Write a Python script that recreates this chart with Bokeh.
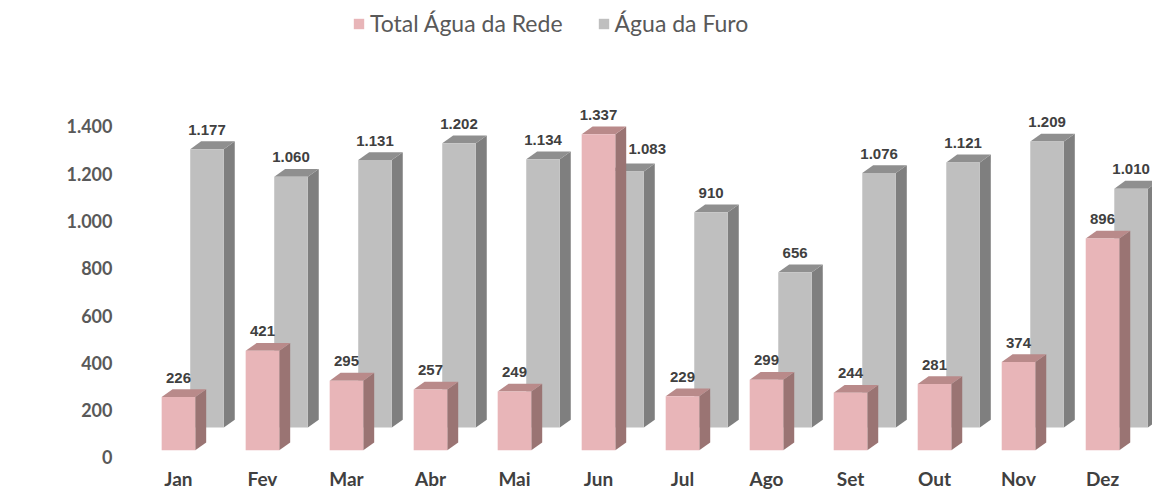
from bokeh.plotting import figure
from bokeh.models import FixedTicker, Legend, LegendItem, ColumnDataSource, Range1d
from bokeh.core.properties import value
from bokeh.embed import file_html
from bokeh.resources import INLINE

# ---- data ----
months = ["Jan", "Fev", "Mar", "Abr", "Mai", "Jun", "Jul", "Ago", "Set", "Out", "Nov", "Dez"]
rede = [226, 421, 295, 257, 249, 1337, 229, 299, 244, 281, 374, 896]
furo = [1177, 1060, 1131, 1202, 1134, 1083, 910, 656, 1076, 1121, 1209, 1010]
series_names = ["Total Água da Rede", "Água da Furo"]
y_ticks = [0, 200, 400, 600, 800, 1000, 1200, 1400]

# ---- pseudo-3D projection parameters (data units) ----
BAR_W = 0.40      # front face width
DEPTH_X = 0.13    # side face horizontal depth
DEPTH_Y = 33      # top face vertical depth
ROW_PINK = (0.0, 30)    # (x shift, y shift) of the front row
ROW_GRAY = (0.34, 127)  # (x shift, y shift) of the back row
LABEL_GAP = 82
LABEL_NUDGE_GRAY = {5: (0.24, 12)}   # label moved aside where it would be hidden

def fmt(v):
    return f"{v:,}".replace(",", ".")

def faces(vals, row, nudge):
    sx, sy = row
    fronts = dict(left=[], right=[], bottom=[], top=[])
    side_xs, side_ys, top_xs, top_ys = [], [], [], []
    lab_x, lab_y, lab_t = [], [], []
    for i, v in enumerate(vals):
        xl = i + sx - BAR_W / 2
        xr = i + sx + BAR_W / 2
        y0 = sy
        y1 = v + sy
        fronts["left"].append(xl); fronts["right"].append(xr)
        fronts["bottom"].append(y0); fronts["top"].append(y1)
        side_xs.append([xr, xr + DEPTH_X, xr + DEPTH_X, xr])
        side_ys.append([y0, y0 + DEPTH_Y, y1 + DEPTH_Y, y1])
        top_xs.append([xl, xl + DEPTH_X, xr + DEPTH_X, xr])
        top_ys.append([y1, y1 + DEPTH_Y, y1 + DEPTH_Y, y1])
        nx, ny = nudge.get(i, (0, 0))
        lab_x.append(i + sx + nx)
        lab_y.append(y1 + LABEL_GAP + ny)
        lab_t.append(fmt(v))
    return fronts, (side_xs, side_ys), (top_xs, top_ys), (lab_x, lab_y, lab_t)

p = figure(width=1152, height=492, output_backend="svg", toolbar_location=None,
           x_range=Range1d(-0.69, 11.595), y_range=Range1d(-34, 1899),
           min_border_left=120, min_border_right=0, min_border_top=8, min_border_bottom=27)
p.background_fill_color = "white"
p.border_fill_color = "white"
p.outline_line_color = None
p.grid.visible = False

renderers = {}
labels = []
styles = [
    (furo, ROW_GRAY, "#bfbfbf", "#7f7f7f", "#8f8f8f", series_names[1], LABEL_NUDGE_GRAY),
    (rede, ROW_PINK, "#e8b5b8", "#9a7473", "#b98a8a", series_names[0], {}),
]
for vals, row, c_front, c_side, c_top, name, nudge in styles:
    fr, (sxs, sys_), (txs, tys), lab = faces(vals, row, nudge)
    p.patches(sxs, sys_, fill_color=c_side, line_color=None)
    p.patches(txs, tys, fill_color=c_top, line_color=None)
    r = p.quad(source=ColumnDataSource(fr), left="left", right="right", bottom="bottom", top="top",
               fill_color=c_front, line_color=None)
    renderers[name] = r
    labels.append(lab)

for lx, ly, lt in labels:
    p.text(x=lx, y=ly, text=lt, text_align="center", text_baseline="alphabetic",
           text_font=value("Liberation Sans"), text_font_style="bold",
           text_font_size="15px", text_color="#404040")

# axes
p.yaxis.ticker = FixedTicker(ticks=y_ticks)
p.yaxis.major_label_overrides = {t: fmt(t) for t in y_ticks}
p.yaxis.axis_line_color = None
p.yaxis.major_tick_line_color = None
p.yaxis.minor_tick_line_color = None
p.yaxis.major_tick_in = 0
p.yaxis.major_tick_out = 0
p.yaxis.major_label_standoff = 8
p.yaxis.major_label_text_font = "Lato"
p.yaxis.major_label_text_font_style = "bold"
p.yaxis.major_label_text_font_size = "18px"
p.yaxis.major_label_text_color = "#595959"

p.xaxis.ticker = FixedTicker(ticks=list(range(len(months))))
p.xaxis.major_label_overrides = {i: m for i, m in enumerate(months)}
p.xaxis.axis_line_color = None
p.xaxis.major_tick_line_color = None
p.xaxis.minor_tick_line_color = None
p.xaxis.major_tick_in = 0
p.xaxis.major_tick_out = 0
p.xaxis.major_label_standoff = 1
p.xaxis.major_label_text_font = "Lato"
p.xaxis.major_label_text_font_style = "bold"
p.xaxis.major_label_text_font_size = "19px"
p.xaxis.major_label_text_color = "#404040"

legend = Legend(items=[LegendItem(label=series_names[0], renderers=[renderers[series_names[0]]]),
                       LegendItem(label=series_names[1], renderers=[renderers[series_names[1]]])],
                orientation="horizontal", location=(232, 428))
legend.background_fill_alpha = 0
legend.border_line_color = None
legend.padding = 0
legend.margin = 0
legend.spacing = 34
legend.glyph_width = 13
legend.glyph_height = 13
legend.label_standoff = 5
legend.label_text_font = "Lato"
legend.label_text_font_size = "23px"
legend.label_text_color = "#595959"
p.add_layout(legend, "center")

open("out.html", "w").write(file_html(p, INLINE))
